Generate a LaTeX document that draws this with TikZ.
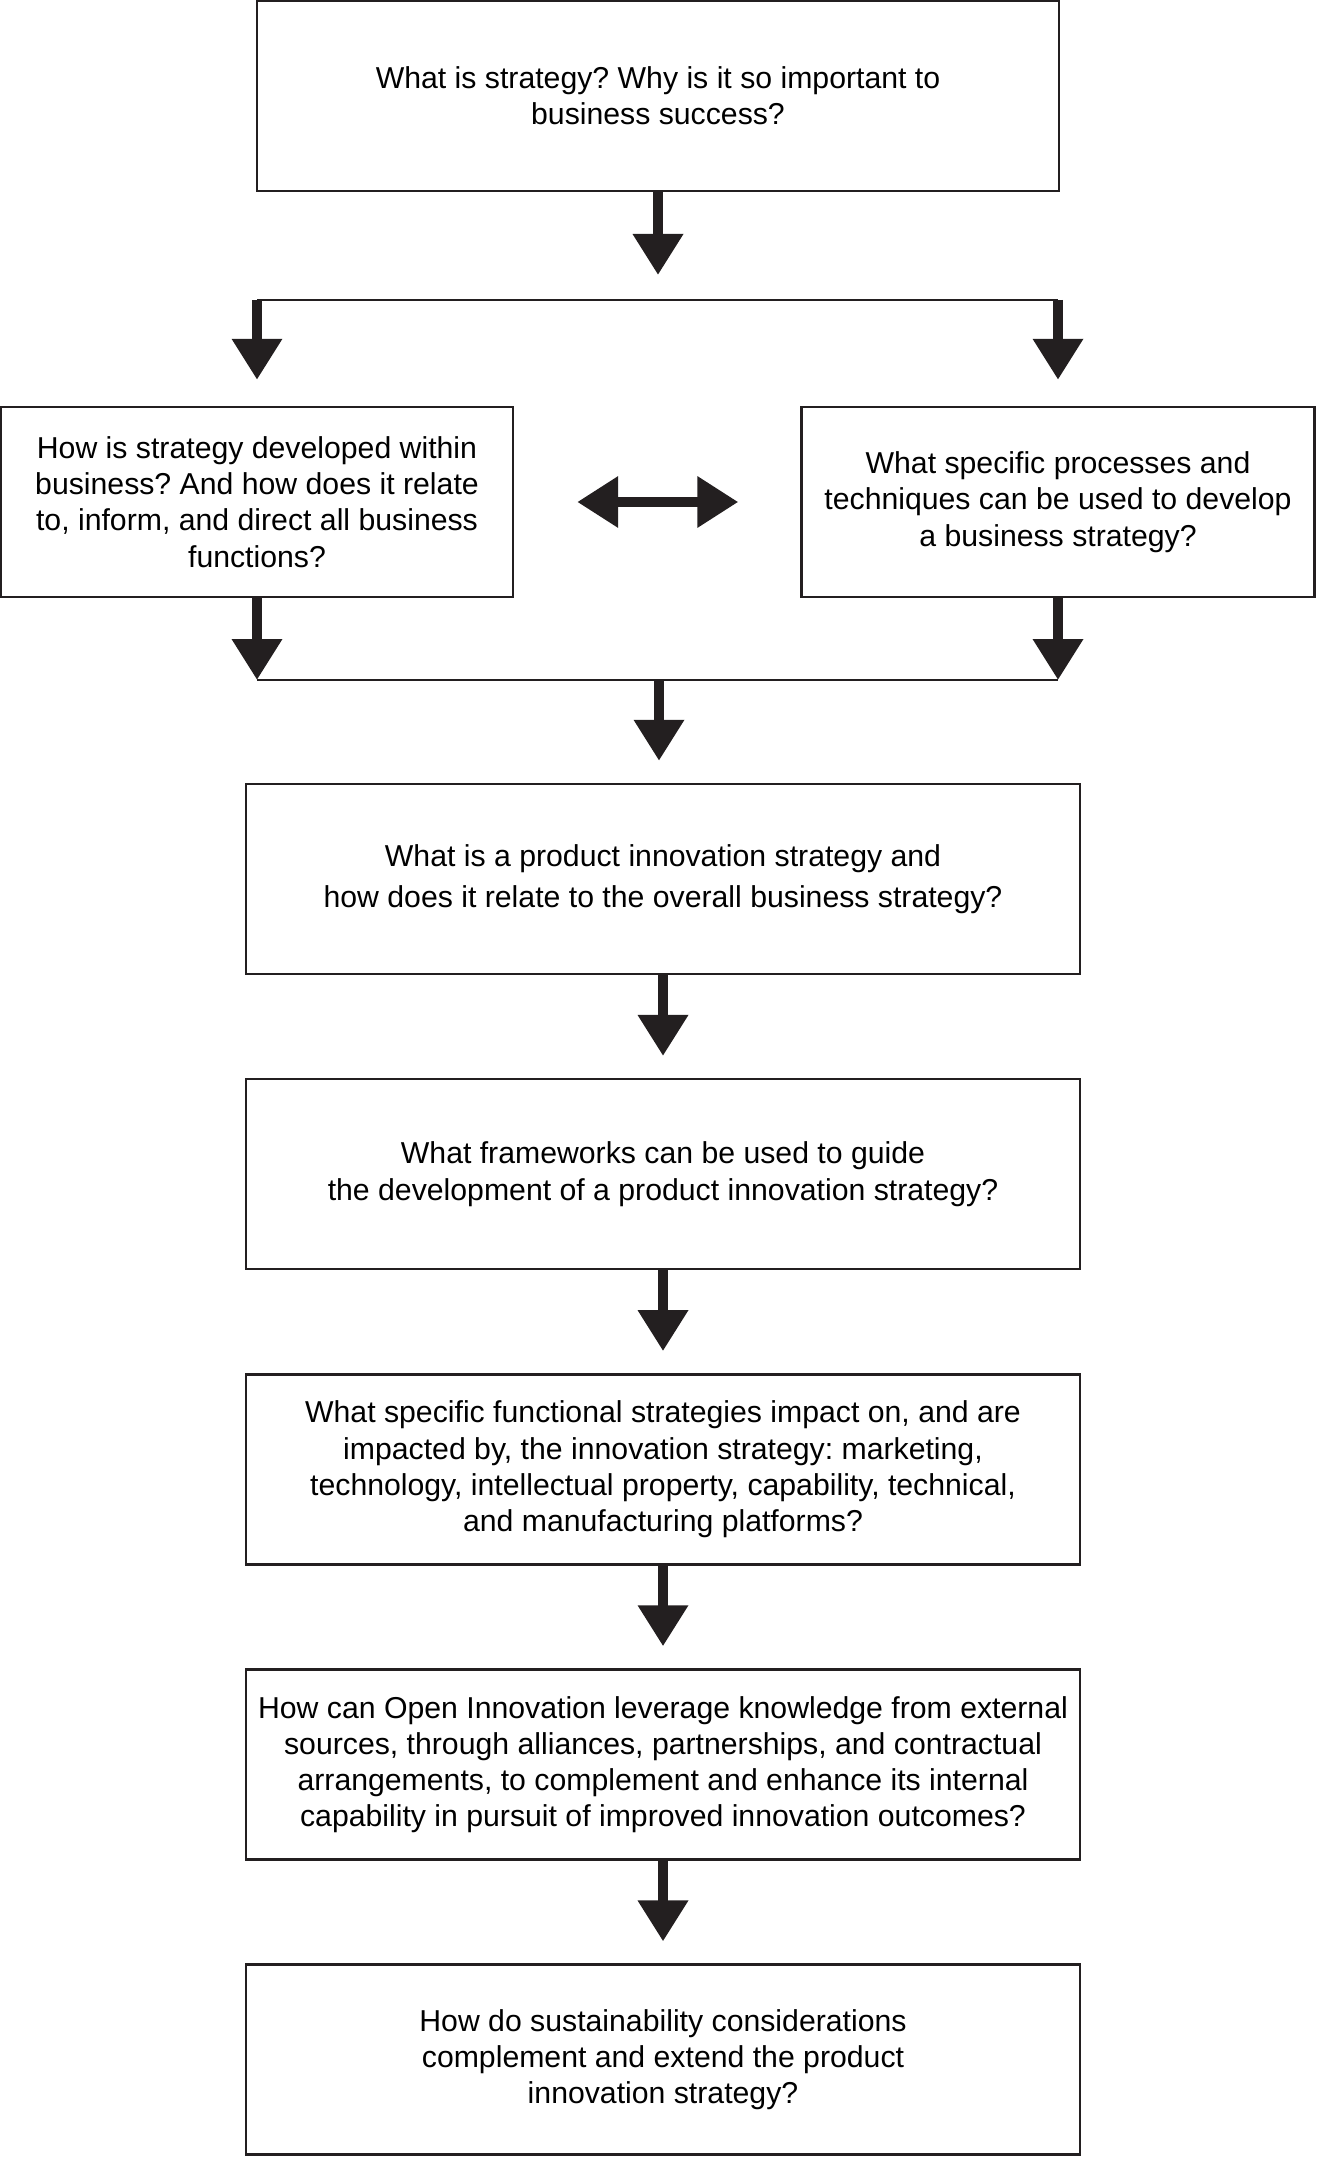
\documentclass[tikz,border=0pt]{standalone}
\usepackage{fontspec}
\setmainfont{Liberation Sans}
\usetikzlibrary{arrows.meta, positioning}
\definecolor{ink}{HTML}{231F20}
\frenchspacing

\begin{document}
\begin{tikzpicture}[
  node distance=1.027cm,
  question/.style={rectangle, draw=ink, line width=0.7pt, minimum width=8.34cm, minimum height=1.9cm, align=center, inner sep=0pt, font=\fontsize{8.6}{10.3}\selectfont},
  side/.style={question, minimum width=5.12cm},
  arrow/.style={ink, line width=1mm, -{Triangle[length=4.1mm, width=4.8mm]}},
  dblarrow/.style={ink, line width=1mm, {Triangle[length=4.1mm, width=4.9mm]}-{Triangle[length=4.1mm, width=4.9mm]}},
  bar/.style={ink, line width=0.85pt}
]
\useasboundingbox (0,0) rectangle (13.17,-21.57);

% Top question
\node[question, minimum width=8.02cm] (q1) at (6.58,-0.96) {What is strategy? Why is it so important to\\business success?};

% Side questions
\node[side] (qL) at (2.57,-5.02) {How is strategy developed within\\business? And how does it relate\\to, inform, and direct all business\\functions?};
\node[side, minimum width=5.13cm] (qR) at (10.58,-5.02) {What specific processes and\\techniques can be used to develop\\a business strategy?};
\draw[dblarrow, shorten <=6.3mm, shorten >=6.2mm] (qL) -- (qR);

% Split
\coordinate (topbar) at (6.58,-3.00);
\draw[arrow, shorten >=2.5mm] (q1) -- (topbar);
\draw[bar] (qL.north |- topbar) -- (qR.north |- topbar);
\draw[arrow, shorten >=2.6mm] (qL.north |- topbar) -- (qL);
\draw[arrow, shorten >=2.6mm] (qR.north |- topbar) -- (qR);

% Merge
\coordinate (botbar) at (6.59,-6.80);
\draw[arrow] (qL) -- (qL.south |- botbar);
\draw[arrow] (qR) -- (qR.south |- botbar);
\draw[bar] (qL.south |- botbar) -- (qR.south |- botbar);

% Chain of questions
\node[question, font=\fontsize{8.6}{11.7}\selectfont] (q3) at (6.63,-8.79) {What is a product innovation strategy and\\how does it relate to the overall business strategy?};
\node[question, below=of q3] (q4) {What frameworks can be used to guide\\the development of a product innovation strategy?};
\node[question, below=of q4] (q5) {What specific functional strategies impact on, and are\\impacted by, the innovation strategy: marketing,\\technology, intellectual property, capability, technical,\\and manufacturing platforms?};
\node[question, below=of q5] (q6) {How can Open Innovation leverage knowledge from external\\sources, through alliances, partnerships, and contractual\\arrangements, to complement and enhance its internal\\capability in pursuit of improved innovation outcomes?};
\node[question, below=of q6] (q7) {How do sustainability considerations\\complement and extend the product\\innovation strategy?};

\draw[arrow, shorten >=2.2mm] (botbar) -- (botbar |- q3.north);
\draw[arrow, shorten >=2.2mm] (q3) -- (q4);
\draw[arrow, shorten >=2.2mm] (q4) -- (q5);
\draw[arrow, shorten >=2.2mm] (q5) -- (q6);
\draw[arrow, shorten >=2.2mm] (q6) -- (q7);

\end{tikzpicture}
\end{document}
